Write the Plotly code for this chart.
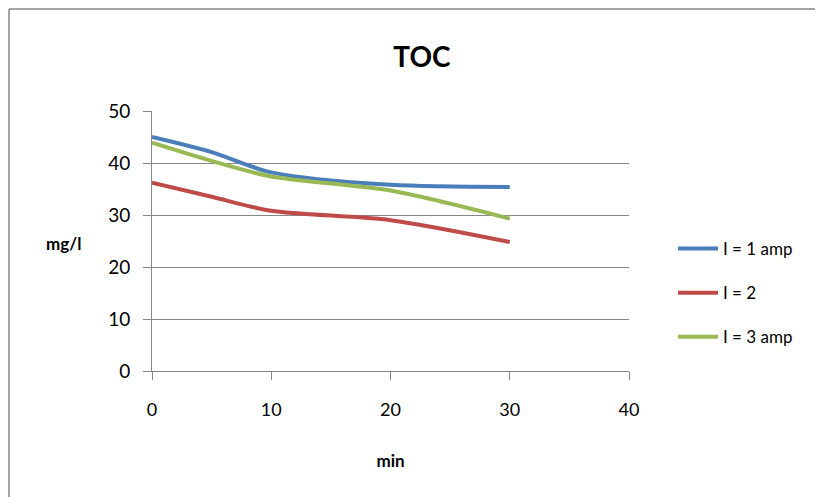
import plotly.graph_objects as go

minutes = [0, 5, 10, 20, 30]
toc_1amp = [45.0, 42.1, 38.2, 35.8, 35.4]
toc_2 = [36.2, 33.5, 30.8, 29.0, 24.8]
toc_3amp = [43.9, 40.4, 37.4, 34.7, 29.3]

series_names = ["I = 1 amp", "I = 2", "I = 3 amp"]
series_values = [toc_1amp, toc_2, toc_3amp]
series_colors = ["#4A7EBB", "#BE4B48", "#98B954"]

FONT = "Lato, 'Open Sans', sans-serif"

fig = go.Figure()
for i, (name, vals, col) in enumerate(zip(series_names, series_values, series_colors)):
    fig.add_trace(go.Scatter(
        x=minutes, y=vals, name=name, mode="lines", legendgroup=f"g{i}",
        line=dict(color=col, width=4, shape="spline", smoothing=0.8),
    ))

OFF = 8  # page body margin
W, H = 823 - OFF, 497 - OFF
L, T = 152 - OFF, 111 - OFF
R = W - (629 - OFF)
B = H - (371 - OFF)
pw = W - L - R
ph = H - T - B

def px2paper_x(px):
    return (px - OFF - L) / pw

def py2paper_y(py):
    return (H - B - (py - OFF)) / ph

border = dict(color="#868686", width=1.5)

fig.update_layout(
    width=W, height=H,
    margin=dict(l=L, r=R, t=T, b=B),
    paper_bgcolor="white", plot_bgcolor="white",
    font=dict(family=FONT, color="#000000", size=17),
    title=dict(text="<b>TOC</b>", x=px2paper_x(422), xref="paper", xanchor="center",
               y=1 - (57 - OFF) / H, yanchor="middle", font=dict(size=28, family=FONT)),
    showlegend=True,
    legend=dict(x=px2paper_x(673), y=py2paper_y(293), xref="paper", yref="paper",
                xanchor="left", yanchor="middle", traceorder="grouped",
                font=dict(size=17, family=FONT), tracegroupgap=19,
                itemwidth=40, bgcolor="rgba(0,0,0,0)"),
    xaxis=dict(range=[0, 40], tickvals=[0, 10, 20, 30, 40], showgrid=False,
               zeroline=False, showline=True, linecolor="#868686", linewidth=1,
               ticks="outside", ticklen=8, tickcolor="#868686",
               tickfont=dict(size=18), ticklabelstandoff=14,
               title=dict(text="<b>min</b>", font=dict(size=17), standoff=36)),
    yaxis=dict(range=[0, 50], tickvals=[0, 10, 20, 30, 40, 50], showgrid=True,
               gridcolor="#868686", gridwidth=1, zeroline=False,
               showline=True, linecolor="#868686", linewidth=1,
               ticks="outside", ticklen=8, tickcolor="#868686",
               tickfont=dict(size=19), ticklabelstandoff=9,
               title=dict(text="")),
    annotations=[dict(text="<b>mg/l</b>", x=px2paper_x(63), y=py2paper_y(243),
                      xref="paper", yref="paper", showarrow=False,
                      xanchor="center", yanchor="middle", font=dict(size=17))],
    shapes=[
        dict(type="line", xref="paper", yref="paper",
             x0=px2paper_x(OFF + 1), y0=py2paper_y(OFF + 1),
             x1=px2paper_x(OFF + 1), y1=py2paper_y(OFF + H + 20),
             line=border, layer="below"),
        dict(type="line", xref="paper", yref="paper",
             x0=px2paper_x(OFF + 1), y0=py2paper_y(OFF + 1),
             x1=px2paper_x(OFF + W + 20), y1=py2paper_y(OFF + 1),
             line=border, layer="below"),
    ],
)

fig.write_html("out.html")
